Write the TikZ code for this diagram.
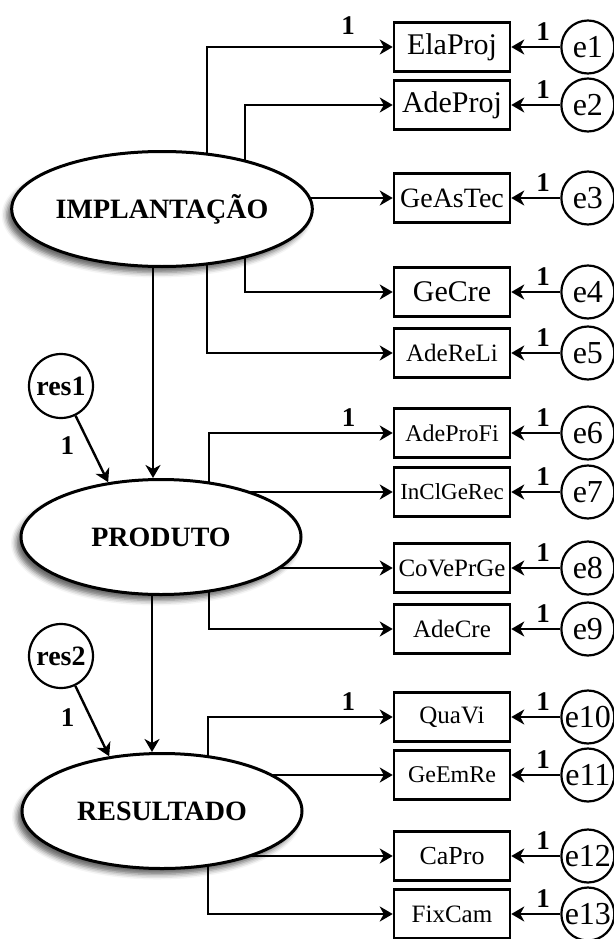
\documentclass[tikz,border=0pt]{standalone}
\usepackage{fontspec}
\setmainfont{Liberation Serif}
\usetikzlibrary{arrows.meta,positioning,shapes.geometric,shadows.blur,backgrounds}
\tikzset{latent/.style={ellipse, draw, line width=3pt, fill=white, minimum width=280pt, minimum height=115pt, inner sep=0pt,
		font=\fontsize{28}{32}\selectfont\bfseries,
		blur shadow={shadow xshift=-5pt, shadow yshift=-6pt, shadow blur radius=5pt, shadow opacity=60}},
	obs/.style={rectangle, draw, line width=2.5pt, fill=white, minimum width=116pt, minimum height=49pt, inner sep=1pt, font=\fontsize{25}{28}\selectfont},
	err/.style={circle, draw, line width=2.2pt, fill=white, minimum size=53pt, inner sep=0pt, font=\fontsize{32}{34}\selectfont},
	res/.style={circle, draw, line width=2.2pt, fill=white, minimum size=64pt, inner sep=0pt, font=\fontsize{28}{30}\selectfont\bfseries},
	conn/.style={line width=2.4pt, -{Stealth[length=13pt,width=15pt,inset=4pt]}},
	one/.style={font=\fontsize{27}{28}\selectfont\bfseries, inner sep=1pt}
}

\begin{document}
\begin{tikzpicture}[x=1pt, y=-1pt]
	\useasboundingbox (0,0) rectangle (613,939);
	% latent variables
	\node[latent] (implant) at (162,209) {IMPLANTAÇÃO};
	\node[latent] (produto) at (161,537) {PRODUTO};
	\node[latent] (result) at (162,811) {RESULTADO};
	\node[res] (res1) at (61,386) {res1};
	\node[res] (res2) at (61,656) {res2};
	% observed variables
	\node[obs, font=\fontsize{30}{34}\selectfont] (v1) at (452,47) {ElaProj};
	\node[obs, font=\fontsize{30}{34}\selectfont] (v2) at (452,105) {AdeProj};
	\node[obs, font=\fontsize{28}{32}\selectfont] (v3) at (452,198) {GeAsTec};
	\node[obs, font=\fontsize{30}{34}\selectfont] (v4) at (452,292) {GeCre};
	\node[obs] (v5) at (452,353) {AdeReLi};
	\node[obs, font=\fontsize{24}{28}\selectfont] (v6) at (452,433) {AdeProFi};
	\node[obs, font=\fontsize{23}{26}\selectfont] (v7) at (452,492) {InClGeRec};
	\node[obs] (v8) at (452,568) {CoVePrGe};
	\node[obs] (v9) at (452,629) {AdeCre};
	\node[obs] (v10) at (452,717) {QuaVi};
	\node[obs, font=\fontsize{24}{28}\selectfont] (v11) at (452,775) {GeEmRe};
	\node[obs, font=\fontsize{26}{28}\selectfont] (v12) at (452,856) {CaPro};
	\node[obs] (v13) at (452,914) {FixCam};
	% errors
	\foreach \i in {1,...,13} {
		\node[err, right=49pt of v\i] (e\i) {e\i};
		\draw[conn] (e\i) -- node[one, pos=0.35, above=4pt] {1} (v\i);
	}
	% loadings
	\begin{pgfonlayer}{background}
		\draw[conn] ([xshift=45pt]implant.center) |- node[one, pos=0.88, above=10pt] {1} (v1);
		\draw[conn] ([xshift=83pt]implant.center) |- (v2);
		\draw[conn] (implant.center |- v3) -- (v3);
		\draw[conn] ([xshift=83pt]implant.center) |- (v4);
		\draw[conn] ([xshift=45pt]implant.center) |- (v5);
		\draw[conn] ([xshift=48pt]produto.center) |- node[one, pos=0.88, above=4pt] {1} (v6);
		\draw[conn] (produto.center |- v7) -- (v7);
		\draw[conn] (produto.center |- v8) -- (v8);
		\draw[conn] ([xshift=48pt]produto.center) |- (v9);
		\draw[conn] ([xshift=46pt]result.center) |- node[one, pos=0.88, above=4pt] {1} (v10);
		\draw[conn] (result.center |- v11) -- (v11);
		\draw[conn] (result.center |- v12) -- (v12);
		\draw[conn] ([xshift=46pt]result.center) |- (v13);
	\end{pgfonlayer}
	% structural paths
	\draw[conn] ([xshift=-9pt]implant.south) -- ([xshift=-9pt]implant.south |- produto.north);
	\draw[conn] ([xshift=-9pt]produto.south) -- ([xshift=-9pt]produto.south |- result.north);
	\draw[conn] (res1) -- node[one, pos=0.45, left=14pt] {1} (produto.134);
	\draw[conn] (res2) -- node[one, pos=0.45, left=14pt] {1} (result.134);
\end{tikzpicture}
\end{document}
